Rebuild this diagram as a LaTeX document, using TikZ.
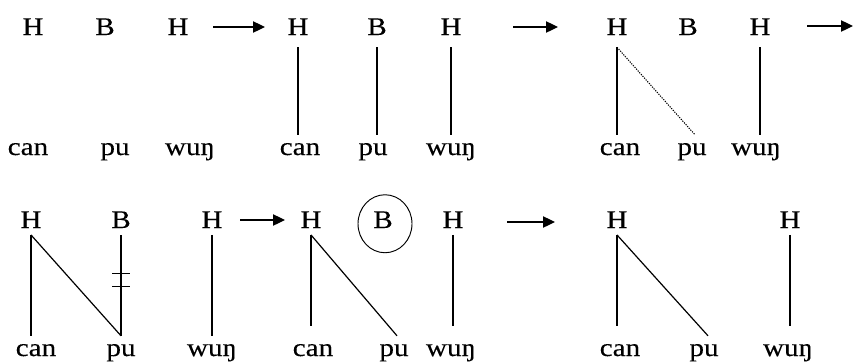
\documentclass[tikz,border=0pt]{standalone}
\usepackage{fontspec}
\setmainfont{Liberation Serif}[FakeStretch=1.15, FakeBold=0.25]
\usetikzlibrary{arrows.meta}
\usetikzlibrary{calc}

\begin{document}
\begin{tikzpicture}[x=0.75pt, y=-0.75pt, >={Triangle[length=9pt, width=8.5pt]},
		font=\fontsize{19}{20}\selectfont,
		tone/.style={anchor=base, inner xsep=0pt, inner ysep=9pt},
		word/.style={anchor=base, inner xsep=0pt, inner ysep=6pt},
		assoc/.style={line width=0.9pt},
		delink/.style={line width=0.8pt, dash pattern=on 0.9pt off 0.9pt}]
		
		\useasboundingbox (0,0) rectangle (853,361);
		
		% First row: H B H over can pu wuŋ
		\node[tone] (t1a) at (33,35) {H};
		\node[tone] (t1b) at (105,35) {B};
		\node[tone] (t1c) at (178,35) {H};
		\node[word] (w1a) at (28,155) {can};
		\node[word] (w1b) at (115,155) {pu};
		\node[word] (w1c) at (190,155) {wuŋ};
		
		% one tone per syllable
		\node[tone] (t2a) at (298,35) {H};
		\node[tone] (t2b) at (377,35) {B};
		\node[tone] (t2c) at (451,35) {H};
		\node[word] (w2a) at (300,155) {can};
		\node[word] (w2b) at (373,155) {pu};
		\node[word] (w2c) at (451,155) {wuŋ};
		\draw[assoc] (t2a.south) -- (t2a.south |- w2a.north);
		\draw[assoc] (t2b.south) -- (t2b.south |- w2b.north);
		\draw[assoc] (t2c.south) -- (t2c.south |- w2c.north);
		
		% H spreads onto pu
		\node[tone] (t3a) at (617,35) {H};
		\node[tone] (t3b) at (688,35) {B};
		\node[tone] (t3c) at (760,35) {H};
		\node[word] (w3a) at (620,155) {can};
		\node[word] (w3b) at (692,155) {pu};
		\node[word] (w3c) at (756,155) {wuŋ};
		\draw[assoc] (t3a.south) -- (t3a.south |- w3a.north);
		\draw[delink] (t3a.south) -- ($(w3b.north)+(3,0)$);
		\draw[assoc] (t3c.south) -- (t3c.south |- w3c.north);
		
		\coordinate (a1s) at (213,27);
		\coordinate (a1e) at (265,27);
		\coordinate (a2s) at (513,27);
		\coordinate (a2e) at (558,27);
		\coordinate (a3s) at (807,26);
		\coordinate (a3e) at (853,26);
		\draw[assoc, ->] (a1s) -- (a1e);
		\draw[assoc, ->] (a2s) -- (a2e);
		\draw[assoc, ->] (a3s) -- (a3e);
		
		% Second row
		\begin{scope}[tone/.append style={inner ysep=5pt}]
			% B cut off from pu
			\node[tone] (t4a) at (31,228) {H};
			\node[tone] (t4b) at (121,228) {B};
			\node[tone] (t4c) at (212,228) {H};
			\node[word] (w4a) at (36,356) {can};
			\node[word] (w4b) at (121,356) {pu};
			\node[word] (w4c) at (212,356) {wuŋ};
			\draw[assoc] (t4a.south) -- (t4a.south |- w4a.north);
			\draw[assoc] (t4a.south) -- (t4b.south |- w4b.north);
			\draw[assoc] (t4b.south) -- (t4b.south |- w4b.north)
				coordinate[pos=0.38] (cut1) coordinate[pos=0.51] (cut2);
			\draw[assoc] ($(cut1)+(-9,0)$) -- ($(cut1)+(9,0)$);
			\draw[assoc] ($(cut2)+(-9,0)$) -- ($(cut2)+(9,0)$);
			\draw[assoc] (t4c.south) -- (t4c.south |- w4c.north);
			
			% floating B
			\node[tone] (t5a) at (311,228) {H};
			\node[tone] (t5b) at (383,228) {B};
			\node[tone] (t5c) at (453,228) {H};
			\node[word] (w5a) at (313,356) {can};
			\node[word] (w5b) at (394,356) {pu};
			\node[word] (w5c) at (451,356) {wuŋ};
			\draw[line width=0.7pt] ($(t5b.center)+(2,4)$) ellipse [x radius=27, y radius=29];
			\draw[assoc, shorten >=7.5pt] (t5a.south) -- (t5a.south |- w5a.north);
			\draw[assoc] (t5a.south) -- ($(w5b.north)+(3,0)$);
			\draw[assoc, shorten >=7.5pt] (t5c.south) -- (t5c.south |- w5c.north);
			
			% B deleted
			\node[tone] (t6a) at (617,228) {H};
			\node[tone] (t6c) at (790,228) {H};
			\node[word] (w6a) at (620,356) {can};
			\node[word] (w6b) at (704,356) {pu};
			\node[word] (w6c) at (788,356) {wuŋ};
			\draw[assoc, shorten >=7.5pt] (t6a.south) -- (t6a.south |- w6a.north);
			\draw[assoc] (t6a.south) -- ($(w6b.north)+(4,0)$);
			\draw[assoc, shorten >=7.5pt] (t6c.south) -- (t6c.south |- w6c.north);
		\end{scope}
		
		\coordinate (a4s) at (240,220);
		\coordinate (a4e) at (285,220);
		\coordinate (a5s) at (507,222);
		\coordinate (a5e) at (555,222);
		\draw[assoc, ->] (a4s) -- (a4e);
		\draw[assoc, ->] (a5s) -- (a5e);
		
	\end{tikzpicture}
\end{document}
